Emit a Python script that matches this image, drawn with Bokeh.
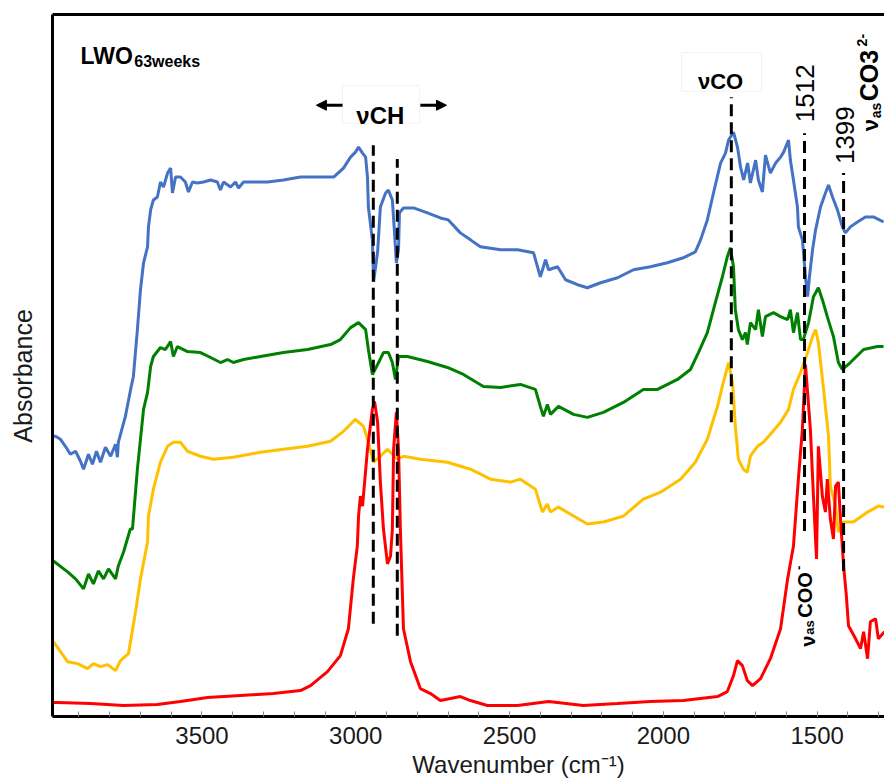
import math
from bokeh.plotting import figure
from bokeh.models import Range1d, LinearAxis, FixedTicker, Label, Arrow, NormalHead
from bokeh.embed import file_html
from bokeh.resources import INLINE

# ---------------- data (wavenumber cm-1, absorbance a.u., stacked) ----------------
blue_wn = [3986, 3976, 3960, 3944, 3928, 3911, 3895, 3885, 3869, 3856, 3843, 3830, 3814, 3797, 3781, 3775,
           3772, 3749, 3732, 3723, 3710, 3700, 3690, 3677, 3674, 3667, 3658, 3645, 3635, 3625, 3612, 3602,
           3596, 3586, 3570, 3554, 3544, 3531, 3515, 3495, 3472, 3450, 3440, 3430, 3407, 3391, 3381, 3365,
           3333, 3287, 3235, 3180, 3124, 3072, 3040, 3017, 3001, 2991, 2978, 2968, 2962, 2959, 2946, 2942,
           2929, 2920, 2903, 2894, 2881, 2874, 2868, 2861, 2858, 2845, 2812, 2767, 2725, 2699, 2660, 2627,
           2595, 2529, 2474, 2422, 2400, 2383, 2373, 2344, 2318, 2279, 2247, 2204, 2149, 2097, 2042, 1987,
           1935, 1896, 1879, 1857, 1837, 1814, 1798, 1788, 1772, 1759, 1749, 1739, 1726, 1717, 1700, 1691,
           1678, 1668, 1652, 1635, 1619, 1609, 1593, 1587, 1577, 1564, 1561, 1548, 1545, 1538, 1531, 1525,
           1515, 1505, 1489, 1473, 1463, 1450, 1434, 1418, 1408, 1392, 1369, 1343, 1317, 1284]
blue_abs = [2.81, 2.81, 2.78, 2.71, 2.63, 2.66, 2.56, 2.48, 2.63, 2.53, 2.66, 2.55, 2.70, 2.61, 2.73, 2.60,
            2.75, 3.01, 3.28, 3.41, 3.88, 4.28, 4.55, 4.71, 4.91, 5.08, 5.18, 5.21, 5.36, 5.31, 5.45, 5.50,
            5.25, 5.41, 5.41, 5.36, 5.26, 5.36, 5.35, 5.36, 5.38, 5.36, 5.28, 5.36, 5.31, 5.36, 5.30, 5.36,
            5.36, 5.36, 5.38, 5.41, 5.41, 5.41, 5.50, 5.61, 5.66, 5.71, 5.65, 5.61, 5.41, 5.11, 4.78, 4.36,
            4.66, 5.11, 5.25, 5.28, 5.18, 4.85, 4.55, 4.68, 5.05, 5.10, 5.10, 5.05, 5.00, 4.98, 4.85, 4.78,
            4.71, 4.68, 4.68, 4.65, 4.41, 4.58, 4.48, 4.51, 4.38, 4.33, 4.30, 4.35, 4.40, 4.48, 4.51, 4.55,
            4.60, 4.66, 4.78, 4.98, 5.25, 5.55, 5.65, 5.78, 5.86, 5.71, 5.51, 5.38, 5.55, 5.35, 5.58, 5.38,
            5.26, 5.63, 5.45, 5.55, 5.61, 5.66, 5.78, 5.58, 5.38, 5.11, 4.91, 4.78, 4.68, 4.41, 4.21, 4.41,
            4.68, 4.88, 5.11, 5.25, 5.33, 5.21, 5.08, 4.91, 4.85, 4.91, 4.96, 5.01, 5.01, 4.96]

green_wn = [3983, 3937, 3911, 3885, 3869, 3853, 3837, 3820, 3804, 3781, 3772, 3755, 3733, 3726, 3710, 3690,
            3677, 3667, 3658, 3635, 3619, 3602, 3593, 3580, 3547, 3505, 3472, 3440, 3417, 3398, 3365, 3310,
            3235, 3157, 3082, 3050, 3017, 2991, 2968, 2959, 2946, 2929, 2910, 2894, 2881, 2871, 2861, 2832,
            2767, 2702, 2650, 2585, 2529, 2465, 2416, 2400, 2390, 2377, 2367, 2341, 2292, 2247, 2195, 2130,
            2065, 2019, 1954, 1912, 1886, 1857, 1831, 1808, 1792, 1782, 1772, 1766, 1756, 1743, 1733, 1727,
            1717, 1700, 1691, 1678, 1668, 1642, 1619, 1596, 1587, 1577, 1564, 1554, 1545, 1528, 1512, 1496,
            1483, 1467, 1447, 1431, 1418, 1392, 1349, 1304, 1284]
green_abs = [1.56, 1.45, 1.38, 1.28, 1.43, 1.33, 1.46, 1.38, 1.48, 1.38, 1.51, 1.65, 1.88, 1.88, 2.48, 3.08,
             3.25, 3.51, 3.61, 3.70, 3.68, 3.76, 3.61, 3.71, 3.66, 3.65, 3.60, 3.55, 3.58, 3.55, 3.58, 3.61,
             3.65, 3.68, 3.73, 3.78, 3.90, 3.95, 3.88, 3.68, 3.43, 3.53, 3.65, 3.65, 3.55, 3.38, 3.61, 3.61,
             3.56, 3.50, 3.43, 3.31, 3.30, 3.33, 3.28, 3.11, 3.01, 3.13, 3.03, 3.11, 3.03, 3.00, 3.05, 3.15,
             3.28, 3.28, 3.38, 3.48, 3.65, 3.85, 4.15, 4.41, 4.61, 4.70, 4.51, 4.08, 3.88, 3.78, 3.85, 3.73,
             3.95, 3.88, 4.08, 3.81, 4.01, 4.05, 4.01, 3.98, 4.08, 3.85, 4.05, 3.78, 3.78, 3.95, 4.21, 4.30,
             4.18, 4.01, 3.81, 3.55, 3.48, 3.55, 3.68, 3.71, 3.71]

yellow_wn = [3983, 3937, 3905, 3872, 3853, 3830, 3807, 3781, 3765, 3739, 3716, 3700, 3677, 3674, 3658, 3635,
             3612, 3593, 3570, 3547, 3505, 3463, 3398, 3310, 3235, 3157, 3082, 3040, 3001, 2975, 2959, 2942,
             2920, 2897, 2881, 2864, 2845, 2790, 2702, 2627, 2562, 2497, 2465, 2416, 2393, 2377, 2367, 2341,
             2292, 2247, 2195, 2130, 2065, 2009, 1944, 1896, 1857, 1824, 1805, 1788, 1775, 1766, 1756, 1740,
             1727, 1717, 1694, 1675, 1652, 1619, 1593, 1577, 1554, 1531, 1515, 1505, 1496, 1479, 1463, 1457,
             1440, 1431, 1414, 1382, 1336, 1301, 1281]
yellow_abs = [0.75, 0.55, 0.53, 0.48, 0.53, 0.50, 0.52, 0.46, 0.56, 0.63, 1.05, 1.38, 1.75, 2.01, 2.28, 2.55,
              2.71, 2.75, 2.75, 2.66, 2.61, 2.58, 2.60, 2.65, 2.68, 2.71, 2.76, 2.86, 2.98, 2.91, 2.75, 2.55,
              2.61, 2.68, 2.63, 2.58, 2.61, 2.58, 2.55, 2.48, 2.38, 2.35, 2.38, 2.28, 2.05, 2.13, 2.05, 2.10,
              2.01, 1.93, 1.95, 2.01, 2.18, 2.25, 2.38, 2.55, 2.78, 3.11, 3.35, 3.55, 3.35, 2.91, 2.58, 2.48,
              2.45, 2.61, 2.71, 2.75, 2.83, 2.95, 3.08, 3.28, 3.45, 3.65, 3.81, 3.88, 3.75, 3.28, 2.81, 2.31,
              2.11, 1.85, 1.95, 1.95, 2.05, 2.11, 2.10]

red_wn = [3986, 3970, 3862, 3755, 3645, 3570, 3482, 3375, 3268, 3180, 3147, 3092, 3050, 3024, 3008, 2995,
          2991, 2985, 2978, 2962, 2946, 2939, 2929, 2920, 2910, 2897, 2887, 2881, 2877, 2868, 2861, 2855,
          2845, 2822, 2790, 2757, 2725, 2692, 2660, 2627, 2572, 2474, 2373, 2260, 2149, 2042, 1935, 1824,
          1792, 1772, 1759, 1743, 1727, 1710, 1684, 1652, 1619, 1596, 1577, 1561, 1548, 1538, 1522, 1512,
          1502, 1496, 1483, 1473, 1467, 1457, 1447, 1440, 1431, 1424, 1414, 1405, 1398, 1375, 1359, 1349,
          1336, 1327, 1310, 1301, 1281]
red_abs = [0.14, 0.14, 0.13, 0.11, 0.12, 0.15, 0.19, 0.21, 0.23, 0.26, 0.31, 0.45, 0.61, 0.88, 1.38, 1.71,
           2.01, 2.21, 2.11, 2.68, 3.08, 3.16, 2.95, 2.35, 1.88, 1.53, 1.61, 1.88, 2.68, 3.05, 2.68, 1.88,
           0.88, 0.55, 0.28, 0.23, 0.16, 0.18, 0.20, 0.16, 0.11, 0.11, 0.15, 0.11, 0.13, 0.15, 0.16, 0.20,
           0.25, 0.41, 0.56, 0.51, 0.36, 0.31, 0.38, 0.58, 0.88, 1.38, 1.71, 2.38, 2.88, 3.53, 2.88, 2.21,
           1.58, 2.71, 2.21, 2.05, 2.38, 1.98, 1.78, 2.31, 2.35, 1.98, 1.51, 1.21, 0.91, 0.78, 0.68, 0.85,
           0.58, 0.95, 0.98, 0.78, 0.85]

# marker (dashed) lines
mark_wn = [2943, 2865, 1779, 1541, 1414]
mark_top = [5.73, 5.59, 6.21, 5.85, 5.45]
mark_bot = [0.93, 0.81, 2.95, 1.86, 1.46]

x_ticks = [1500, 2000, 2500, 3000, 3500]
x_minor = list(range(1300, 4000, 100))

FONT = "Liberation Sans"
NB = "\u00a0"

p = figure(width=884, height=780, output_backend="svg", toolbar_location=None,
           x_range=Range1d(3986, 1281), y_range=Range1d(0, 7.04),
           min_border_left=52, min_border_right=0, min_border_top=14, min_border_bottom=62,
           x_axis_label=NB * 15 + "Wavenumber (cm\u207b\u00b9)",
           y_axis_label="Absorbance" + NB * 3)
p.grid.visible = False
p.outline_line_color = None
p.background_fill_color = "white"
p.border_fill_color = "white"

xa = p.xaxis[0]
xa.ticker = FixedTicker(ticks=x_ticks, minor_ticks=x_minor)
xa.axis_line_width = 3
xa.axis_line_color = "black"
xa.major_tick_in = 5
xa.major_tick_out = 0
xa.minor_tick_in = 5
xa.minor_tick_out = 0
xa.major_tick_line_color = "#888888"
xa.minor_tick_line_color = "#888888"
xa.major_label_text_font = FONT
xa.major_label_text_font_size = "24px"
xa.major_label_text_color = "#1a1a1a"
xa.major_label_standoff = 10
xa.axis_label_text_font = FONT
xa.axis_label_text_font_size = "24px"
xa.axis_label_text_font_style = "normal"
xa.axis_label_text_color = "#1a1a1a"
xa.axis_label_standoff = 4

ya = p.yaxis[0]
ya.ticker = FixedTicker(ticks=[])
ya.axis_line_width = 3
ya.axis_line_color = "black"
ya.major_tick_in = 0
ya.major_tick_out = 0
ya.minor_tick_in = 0
ya.minor_tick_out = 0
ya.major_label_standoff = 0
ya.axis_label_text_font = FONT
ya.axis_label_text_font_size = "25px"
ya.axis_label_text_font_style = "normal"
ya.axis_label_text_color = "#1a1a1a"
ya.axis_label_standoff = 16

top = LinearAxis(ticker=FixedTicker(ticks=[]), axis_line_width=3, axis_line_color="black",
                 major_tick_in=0, major_tick_out=0, minor_tick_in=0, minor_tick_out=0,
                 major_label_standoff=0)
p.add_layout(top, "above")

# spectra
p.line(blue_wn, blue_abs, line_color="#4472C4", line_width=3)
p.line(green_wn, green_abs, line_color="#008000", line_width=3)
p.line(yellow_wn, yellow_abs, line_color="#FFC000", line_width=3)
p.line(red_wn, red_abs, line_color="#FF0000", line_width=3)

# dashed marker lines
p.segment(x0=mark_wn, y0=mark_bot, x1=mark_wn, y1=mark_top, line_color="black",
          line_width=3, line_dash="12 6")

# very faint boxes around the band labels
p.quad(left=[3043, 1941], right=[2793, 1681], top=[6.33, 6.66], bottom=[5.95, 6.27],
       fill_color=None, line_color="#f3f3f3", line_width=1)


def lab(x, y, text, size, style="bold", angle=0, align="left", baseline="alphabetic"):
    p.add_layout(Label(x=x, y=y, text=text, text_font=FONT, text_font_size=f"{size}px",
                       text_font_style=style, text_color="black", angle=angle,
                       text_align=align, text_baseline=baseline))


R = math.pi / 2

lab(3895, 6.62, "LWO", 23)
lab(3720, 6.57, "63weeks", 16)
lab(2920, 6.03, "\u03bdCH", 24, align="center")
lab(1814, 6.37, "\u03bdCO", 22, align="center")
lab(1538, 6.25, "1512", 26, style="normal", angle=R, align="center", baseline="middle")
lab(1411, 5.83, "1399", 26, style="normal", angle=R, align="center", baseline="middle")
# nu_as CO3 2-
lab(1327, 5.87, "\u03bd", 22, angle=R, baseline="middle")
lab(1309, 6.00, "as", 14, angle=R, baseline="middle")
lab(1331, 6.17, "CO3", 25, angle=R, baseline="middle")
lab(1354, 6.72, "2-", 14, angle=R, baseline="middle")
# nu_as COO-
lab(1530, 0.70, "\u03bd", 20, angle=R, baseline="middle")
lab(1525, 0.82, "as", 13, angle=R, baseline="middle")
lab(1540, 0.99, "COO", 20, angle=R, baseline="middle")
lab(1561, 1.47, "-", 13, angle=R, baseline="middle")

# arrows
p.add_layout(Arrow(x_start=3043, y_start=6.13, x_end=3128, y_end=6.13, line_width=3,
                   end=NormalHead(size=10, fill_color="black", line_color="black")))
p.add_layout(Arrow(x_start=2790, y_start=6.13, x_end=2705, y_end=6.13, line_width=3,
                   end=NormalHead(size=10, fill_color="black", line_color="black")))

open("out.html", "w").write(file_html(p, INLINE))
